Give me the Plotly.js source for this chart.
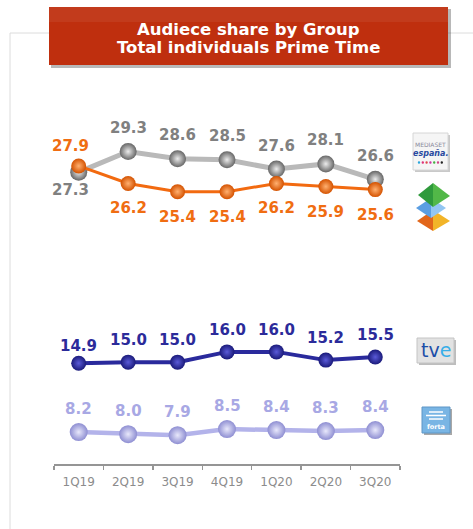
<!DOCTYPE html>
<html><head><meta charset="utf-8">
<script src="https://cdn.plot.ly/plotly-3.0.1.min.js"></script>
<style>html,body{margin:0;padding:0;background:#fff}#chart{width:473px;height:529px}</style>
</head><body><div id="chart"></div>
<script>
// ---- data ----
const quarters   = ['1Q19','2Q19','3Q19','4Q19','1Q20','2Q20','3Q20'];
const mediaset   = [27.3, 29.3, 28.6, 28.5, 27.6, 28.1, 26.6];
const atresmedia = [27.9, 26.2, 25.4, 25.4, 26.2, 25.9, 25.6];
const tve        = [14.9, 15.0, 15.0, 16.0, 16.0, 15.2, 15.5];
const forta      = [8.2, 8.0, 7.9, 8.5, 8.4, 8.3, 8.4];
const titleLines = ['Audiece share by Group', 'Total individuals Prime Time'];

// ---- geometry helpers (pixel -> paper) ----
const L = 54, R = 400, T = 100, B = 464;
const X = p => (p - L) / (R - L);
const Y = p => (B - p) / (B - T);

function series(y, yaxis, lineColor, lineWidth, outer, inner, size) {
  return {
    x: quarters, y: y, yaxis: yaxis, type: 'scatter', mode: 'lines+markers',
    line: {color: lineColor, width: lineWidth},
    marker: {size: size, color: outer, gradient: {type: 'radial', color: inner},
             line: {width: 0}},
    cliponaxis: false, hoverinfo: 'skip'
  };
}

const traces = [
  series(mediaset, 'y2', '#b9b9b9', 5, '#666666', '#ececec', 17),
  series(atresmedia, 'y2', '#f26a10', 3, '#d45200', '#ffb070', 15),
  series(tve, 'y', '#2a2a9c', 4, '#1a1a7a', '#5a5ad8', 15),
  series(forta, 'y', '#b3b3ea', 4.5, '#8e8ed2', '#e8e8fb', 18)
];

const ann = [];
const labFont = (c) => ({family: 'DejaVu Sans', size: 15, color: c, weight: 'bold'});
function labels(vals, yref, color, shiftFn, xshiftFn) {
  vals.forEach((v, i) => {
    ann.push({x: quarters[i], y: v, xref: 'x', yref: yref, text: '<b>' + v.toFixed(1) + '</b>',
      showarrow: false, yshift: shiftFn(i), xshift: xshiftFn(i), font: labFont(color)});
  });
}
labels(mediaset, 'y2', '#808080', i => i === 0 ? -18 : 23.5, i => i === 0 ? -8 : 0);
labels(atresmedia, 'y2', '#f06d12', i => i === 0 ? 20 : -25, i => i === 0 ? -8 : 0);
labels(tve, 'y', '#2b2b9a', i => i === 0 ? 17 : 22, i => 0);
labels(forta, 'y', '#a8a8e4', i => 23, i => 0);

// title texts
ann.push({xref: 'paper', yref: 'paper', x: X(248.5), y: Y(29), text: '<b>' + titleLines[0] + '</b>',
  showarrow: false, xanchor: 'center', yanchor: 'middle',
  font: {family: 'DejaVu Sans', size: 16.5, color: '#ffffff'}});
ann.push({xref: 'paper', yref: 'paper', x: X(248.5), y: Y(47), text: '<b>' + titleLines[1] + '</b>',
  showarrow: false, xanchor: 'center', yanchor: 'middle',
  font: {family: 'DejaVu Sans', size: 16.5, color: '#ffffff'}});

// logo texts
ann.push({xref: 'paper', yref: 'paper', x: X(430.5), y: Y(144.5), text: 'MEDIASET', showarrow: false,
  xanchor: 'center', yanchor: 'middle', font: {family: 'DejaVu Sans', size: 6, color: '#8a8a9c'}});
ann.push({xref: 'paper', yref: 'paper', x: X(430.5), y: Y(153.5), text: '<b><i>españa.</i></b>', showarrow: false,
  xanchor: 'center', yanchor: 'middle', font: {family: 'DejaVu Sans', size: 8, color: '#2a4aa0'}});
ann.push({xref: 'paper', yref: 'paper', x: X(435.5), y: Y(350), 
  text: '<span style="color:#1c4ea8">tv</span><span style="color:#38aee8">e</span>', showarrow: false,
  xanchor: 'center', yanchor: 'middle', font: {family: 'DejaVu Sans', size: 19, color: '#1c4ea8'}});
ann.push({xref: 'paper', yref: 'paper', x: X(436), y: Y(427), text: '<b>forta</b>', showarrow: false,
  xanchor: 'center', yanchor: 'middle', font: {family: 'DejaVu Sans', size: 6.5, color: '#ffffff'}});

const shapes = [];
const P = (x0, y0, x1, y1, o) => Object.assign({type: 'rect', xref: 'paper', yref: 'paper',
  x0: X(x0), x1: X(x1), y0: Y(y1), y1: Y(y0), line: {width: 0}}, o);
const poly = (pts, fill) => ({type: 'path', xref: 'paper', yref: 'paper',
  path: 'M ' + pts.map(p => X(p[0]) + ',' + Y(p[1])).join(' L ') + ' Z',
  fillcolor: fill, line: {width: 0}});
// frame
shapes.push({type: 'line', xref: 'paper', yref: 'paper', x0: X(10), x1: X(473), y0: Y(33), y1: Y(33),
  line: {color: '#dcdcdc', width: 1}, layer: 'below'});
shapes.push({type: 'line', xref: 'paper', yref: 'paper', x0: X(10), x1: X(10), y0: Y(33), y1: Y(529),
  line: {color: '#dcdcdc', width: 1}, layer: 'below'});
// title box
shapes.push(P(51, 9, 451, 68, {fillcolor: 'rgba(0,0,0,0.28)'}));
shapes.push(P(49, 7, 448, 65, {fillcolor: '#bf2f0e'}));
shapes.push(P(49, 7, 448, 22, {fillcolor: 'rgba(255,255,255,0.06)'}));
// mediaset logo
shapes.push(P(415, 135, 450, 172, {fillcolor: '#c9c9c9'}));
shapes.push(P(413, 133, 448, 170, {fillcolor: '#f5f5f5', line: {color: '#d6d6d6', width: 1}}));
['#2aa6dc','#e0307a','#e04848','#d030a8','#44b044','#d04488','#222222'].forEach((c, i) => {
  const cx = 419 + i * 3.8, cy = 162.5;
  shapes.push({type: 'circle', xref: 'paper', yref: 'paper', x0: X(cx - 1.2), x1: X(cx + 1.2),
    y0: Y(cy + 1.2), y1: Y(cy - 1.2), fillcolor: c, line: {width: 0}});
});
// atresmedia logo
shapes.push(poly([[417,221],[433,210],[433,231]], '#e2661a'));
shapes.push(poly([[433,210],[450,221],[433,231]], '#f2b428'));
shapes.push(poly([[416,208],[431,198],[431,218]], '#5b9ee2'));
shapes.push(poly([[431,198],[446,208],[431,218]], '#93c6f2'));
shapes.push(poly([[418,195],[433,183],[433,207]], '#2f9a3c'));
shapes.push(poly([[433,183],[450,196],[433,207]], '#52b848'));
// tve logo
shapes.push(P(419, 340, 456, 365, {fillcolor: '#bdbdbd'}));
shapes.push(P(417, 338, 454, 363, {fillcolor: '#e2e2e2', line: {color: '#c4c4c4', width: 1}}));
// forta logo
shapes.push(P(424, 409, 452, 435, {fillcolor: '#a8a8a8'}));
shapes.push(P(422, 407, 450, 433, {fillcolor: '#79b5e4', line: {color: '#5f96c6', width: 1}}));
[412, 415.5, 419].forEach((yy, i) => {
  shapes.push({type: 'line', xref: 'paper', yref: 'paper', x0: X(428 + (i === 1 ? -2 : 1)), x1: X(444 - (i === 1 ? -2 : 1)),
    y0: Y(yy), y1: Y(yy), line: {color: '#ffffff', width: 1.5}});
});

const layout = {
  width: 473, height: 529,
  margin: {l: L, r: 473 - R, t: T, b: 529 - B},
  paper_bgcolor: '#ffffff', plot_bgcolor: 'rgba(0,0,0,0)',
  showlegend: false,
  xaxis: {type: 'category', range: [-0.5, 6.5], anchor: 'y', showgrid: false, zeroline: false,
    showline: true, linecolor: '#959595', linewidth: 1.5,
    ticks: 'outside', tickson: 'boundaries', ticklen: 4, tickcolor: '#959595', tickwidth: 1.5,
    ticklabelstandoff: 6,
    tickfont: {family: 'DejaVu Sans', size: 12, color: '#8c8c8c'}, fixedrange: true},
  yaxis: {domain: [0, (B - 320) / (B - T)], range: [5.1, 19.1], visible: false, fixedrange: true},
  yaxis2: {domain: [(B - 260) / (B - T), 1], range: [18.76, 34.31], visible: false, fixedrange: true, anchor: 'x'},
  annotations: ann,
  shapes: shapes
};

Plotly.newPlot('chart', traces, layout, {displayModeBar: false, staticPlot: true});
</script>
</body></html>
